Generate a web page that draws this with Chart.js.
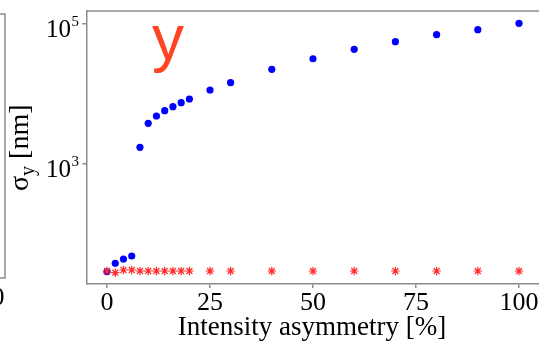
<!DOCTYPE html>
<html>
<head>
<meta charset="utf-8">
<script src="https://cdn.jsdelivr.net/npm/chart.js@4.4.0/dist/chart.umd.min.js"></script>
<style>
  html, body { margin: 0; padding: 0; background: #fff; overflow: hidden; }
  canvas { display: block; }
</style>
</head>
<body>
<canvas id="sigmaChart" width="545" height="341"></canvas>
<script>
// asymmetry levels (%) and the fitted sigma_y for both methods
const asymmetry = [0, 2, 4, 6, 8, 10, 12, 14, 16, 18, 20, 25, 30, 40, 50, 60, 70, 80, 90, 100];
const sigmaBlue = [28.9, 38.1, 43.9, 48.5, 1730, 3810, 4850, 5770, 6590, 7510, 8480,
  11400, 14500, 22500, 31900, 43500, 55900, 70300, 83000, 102300];
const sigmaRed = [29.6, 28.0, 30.6, 30.6, 29.6, 29.6, 29.6, 29.6, 29.6, 29.6, 29.6,
  29.6, 29.6, 29.6, 29.6, 29.6, 29.6, 29.6, 29.6, 29.6];
const xTicks = [0, 25, 50, 75, 100];
const yTicks = [1000, 100000];
const yTickExp = ['3', '5'];

const axisGray = '#8c8c8c';
const serif = '"Liberation Serif", "Times New Roman", serif';

const toPoints = (ys) => asymmetry.map((x, i) => ({ x: x, y: ys[i] }));

// frame top, leftover edge of the neighbouring panel, labels and titles
const decorations = {
  id: 'decorations',
  afterDraw(chart) {
    const ctx = chart.ctx;
    const area = chart.chartArea;
    const yScale = chart.scales.y;
    ctx.save();

    ctx.strokeStyle = axisGray;
    ctx.lineWidth = 1.5;
    ctx.beginPath();
    ctx.moveTo(area.left, area.top);
    ctx.lineTo(area.right + 10, area.top);
    ctx.stroke();

    // right edge of the panel to the left
    ctx.beginPath();
    ctx.moveTo(-2, 14);
    ctx.lineTo(5, 14);
    ctx.lineTo(5, 278);
    ctx.lineTo(-2, 278);
    ctx.stroke();
    ctx.fillStyle = '#000';
    ctx.font = '26px ' + serif;
    ctx.textAlign = 'center';
    ctx.textBaseline = 'alphabetic';
    ctx.fillText('0', -2, 305);

    // y tick labels as powers of ten
    yTicks.forEach((v, i) => {
      const py = yScale.getPixelForValue(v);
      ctx.font = '25px ' + serif;
      ctx.textAlign = 'right';
      ctx.fillText('10', 71, py + 13);
      ctx.font = '15px ' + serif;
      ctx.textAlign = 'left';
      ctx.fillText(yTickExp[i], 71.5, py + 2);
    });

    // x title
    ctx.font = '27px ' + serif;
    ctx.textAlign = 'center';
    ctx.fillText('Intensity asymmetry [%]', 312, 335);

    // y title: sigma with subscript y
    ctx.translate(28, 191);
    ctx.rotate(-Math.PI / 2);
    ctx.textAlign = 'left';
    ctx.font = '28px ' + serif;
    ctx.fillText('σ', 0, 0);
    let w = ctx.measureText('σ').width;
    ctx.font = '20px ' + serif;
    ctx.fillText('y', w, 6);
    w += ctx.measureText('y').width;
    ctx.font = '28px ' + serif;
    ctx.fillText(' [nm]', w, 0);
    ctx.setTransform(1, 0, 0, 1, 0, 0);

    // panel tag
    ctx.fillStyle = '#ff4422';
    ctx.font = '64px "Liberation Sans", Arial, sans-serif';
    ctx.textAlign = 'left';
    ctx.fillText('y', 152, 60);

    ctx.restore();
  }
};

const chart = new Chart(document.getElementById('sigmaChart').getContext('2d'), {
  type: 'scatter',
  data: {
    datasets: [
      {
        label: 'red',
        data: toPoints(sigmaRed),
        pointStyle: 'star',
        pointRadius: 4.2,
        borderColor: '#ff2a2a',
        backgroundColor: '#ff2a2a',
        pointBorderWidth: 1.2
      },
      {
        label: 'blue',
        data: toPoints(sigmaBlue),
        pointStyle: 'circle',
        pointRadius: 3.6,
        backgroundColor: '#0000ff',
        borderColor: '#0000ff',
        pointBorderWidth: 0
      }
    ]
  },
  options: {
    responsive: false,
    animation: false,
    devicePixelRatio: 1,
    layout: { padding: { left: 0, right: 5.4, top: 11, bottom: 0 } },
    plugins: { legend: { display: false }, tooltip: { enabled: false } },
    scales: {
      x: {
        type: 'linear',
        min: -5,
        max: 105,
        afterBuildTicks: (scale) => { scale.ticks = xTicks.map(v => ({ value: v })); },
        afterFit: (scale) => { scale.height = 57; },
        border: { display: true, color: axisGray, width: 1.5 },
        grid: { drawOnChartArea: false, drawTicks: true, tickLength: 4, color: axisGray, lineWidth: 1.5 },
        ticks: { color: '#000', font: { family: serif, size: 26 }, padding: 0, maxRotation: 0, autoSkip: false }
      },
      y: {
        type: 'logarithmic',
        min: 19.3,
        max: 153400,
        afterBuildTicks: (scale) => { scale.ticks = yTicks.map(v => ({ value: v })); },
        afterFit: (scale) => { scale.width = 86.4; },
        border: { display: true, color: axisGray, width: 1.5 },
        grid: { drawOnChartArea: false, drawTicks: true, tickLength: 4, color: axisGray, lineWidth: 1.5 },
        ticks: { display: false }
      }
    }
  },
  plugins: [decorations]
});
</script>
</body>
</html>
